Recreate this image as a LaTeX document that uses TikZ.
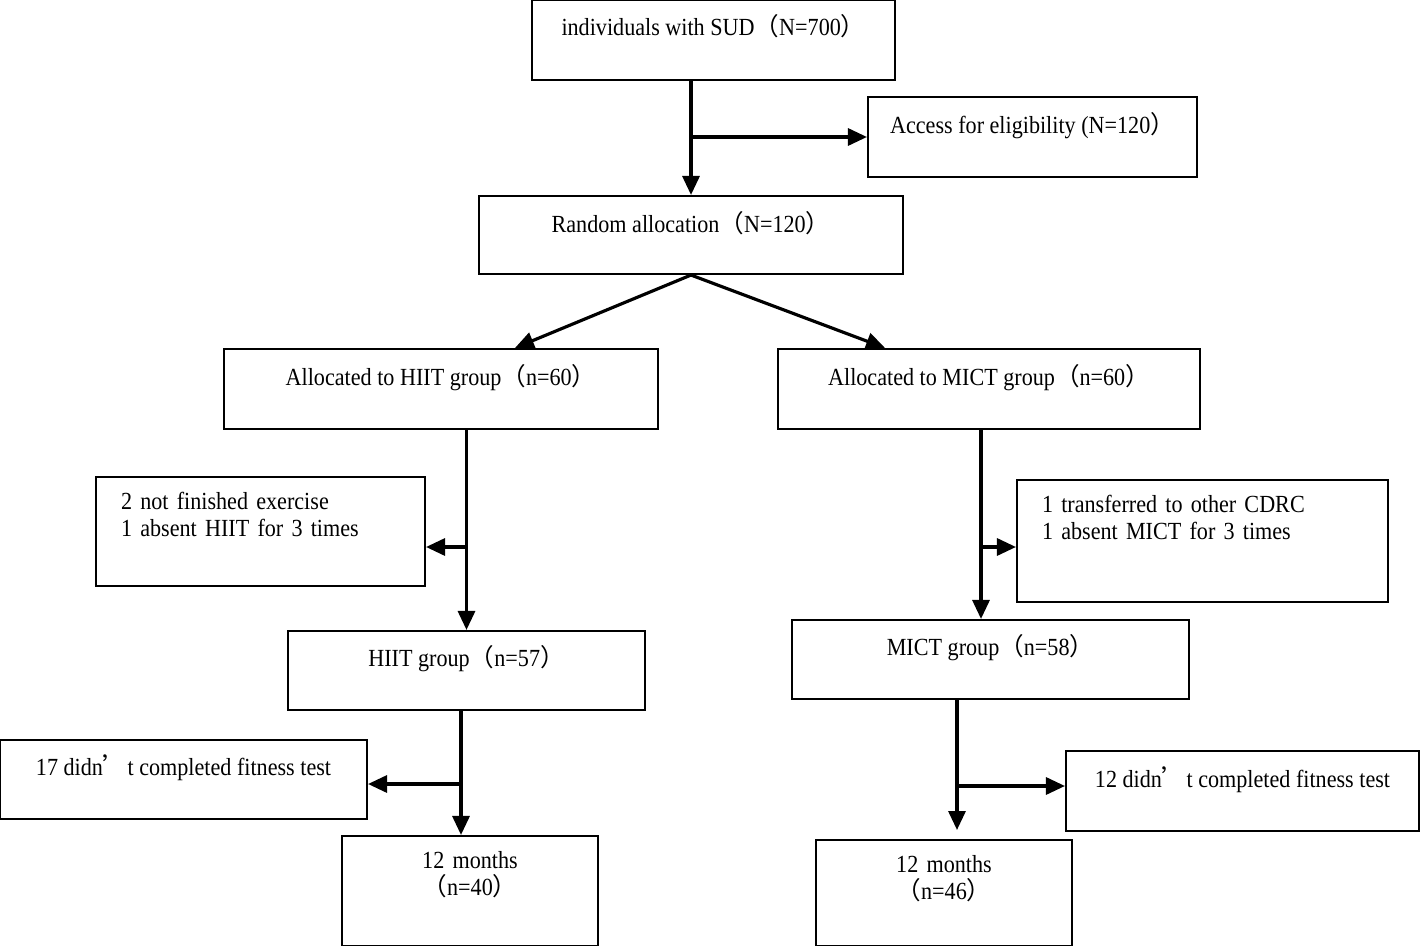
\documentclass[tikz,border=0pt]{standalone}
\usepackage{fontspec}
\setmainfont{Liberation Serif}[FakeStretch=0.9]
\newfontfamily\cjk{Noto Sans CJK SC}
\usetikzlibrary{arrows.meta, calc}
\newcommand{\fwl}{{\cjk （}}
\newcommand{\fwr}{{\cjk ）}}
\newcommand{\fwq}{{\cjk ’}}

\begin{document}
\begin{tikzpicture}[x=0.02cm, y=-0.02cm]
        \tikzset{box/.style = {draw, line width=1.2pt, inner sep=0pt, font=\fontsize{14}{15.4}\selectfont}}
        \tikzset{edge/.style = {line width=1.8pt, -{Triangle[length=0.38cm, width=0.34cm]}}}
        \useasboundingbox (0,0) rectangle (1420,946);

        \node[box, minimum width=7.26cm, minimum height=1.6cm, text height=0.72cm, text depth=0.88cm] (sud) at (713.5, 40) {individuals with SUD\fwl N=700\fwr};
        \node[box, minimum width=6.58cm, minimum height=1.6cm, text height=0.72cm, text depth=0.88cm] (access) at (1032.5, 137) {Access for eligibility (N=120\fwr};
        \node[box, minimum width=8.48cm, minimum height=1.56cm, text height=0.72cm, text depth=0.84cm] (random) at (691, 235) {Random allocation\fwl N=120\fwr};
        \node[box, minimum width=8.68cm, minimum height=1.6cm, text height=0.72cm, text depth=0.88cm] (hiit) at (441, 389) {Allocated to HIIT group\fwl n=60\fwr};
        \node[box, minimum width=8.44cm, minimum height=1.6cm, text height=0.72cm, text depth=0.88cm] (mict) at (989, 389) {Allocated to MICT group\fwl n=60\fwr};
        \node[box, minimum width=6.58cm, minimum height=2.18cm, text height=0.64cm, text depth=1.54cm, inner xsep=0.5cm, text width=5.58cm, align=left] (hdrop) at (260.5, 531.5) {2 not finished exercise\\1 absent HIIT for 3 times};
        \node[box, minimum width=7.42cm, minimum height=2.44cm, text height=0.64cm, text depth=1.8cm, inner xsep=0.5cm, text width=6.42cm, align=left] (mdrop) at (1202.5, 541) {1 transferred to other CDRC\\1 absent MICT for 3 times};
        \node[box, minimum width=7.14cm, minimum height=1.58cm, text height=0.7cm, text depth=0.88cm] (hgrp) at (466.5, 670.5) {HIIT group\fwl n=57\fwr};
        \node[box, minimum width=7.94cm, minimum height=1.58cm, text height=0.7cm, text depth=0.88cm] (mgrp) at (990.5, 659.5) {MICT group\fwl n=58\fwr};
        \node[box, minimum width=7.34cm, minimum height=1.58cm, text height=0.7cm, text depth=0.88cm] (htest) at (183.5, 779.5) {17 didn\fwq t completed fitness test};
        \node[box, minimum width=7.06cm, minimum height=1.6cm, text height=0.72cm, text depth=0.88cm] (mtest) at (1242.5, 791) {12 didn\fwq t completed fitness test};
        \node[box, minimum width=5.12cm, minimum height=2.2cm, text height=0.64cm, text depth=1.56cm, text width=5.12cm, align=center] (h12) at (470, 891) {12 months\\\fwl n=40\fwr};
        \node[box, minimum width=5.12cm, minimum height=2.12cm, text height=0.64cm, text depth=1.48cm, text width=5.12cm, align=center] (m12) at (944, 893) {12 months\\\fwl n=46\fwr};

        \coordinate (hsplit) at (465, 547);
        \coordinate (msplit) at (981, 547);
        \coordinate (hcut) at (461, 784);
        \coordinate (mcut) at (957, 786);
        \coordinate (mend) at (957, 830);

        \draw[edge] (sud.south -| random.north) to (random.north);
        \draw[edge] (random.north |- access.west) to (access.west);
        \draw[edge] (random.south) to ([xshift=1.48cm]hiit.north);
        \draw[edge] (random.south) to ([xshift=-2.08cm]mict.north);

        \draw[edge] (hiit.south -| hgrp.north) to (hgrp.north);
        \draw[edge] (hsplit) to (hsplit -| hdrop.east);
        \draw[edge] (mict.south -| msplit) to (mgrp.north -| msplit);
        \draw[edge] (msplit) to (msplit -| mdrop.west);

        \draw[edge] (hgrp.south -| hcut) to (h12.north -| hcut);
        \draw[edge] (hcut) to (hcut -| htest.east);
        \draw[edge] (mgrp.south -| mcut) to (mend);
        \draw[edge] (mcut) to (mcut -| mtest.west);
      \end{tikzpicture}
\end{document}
